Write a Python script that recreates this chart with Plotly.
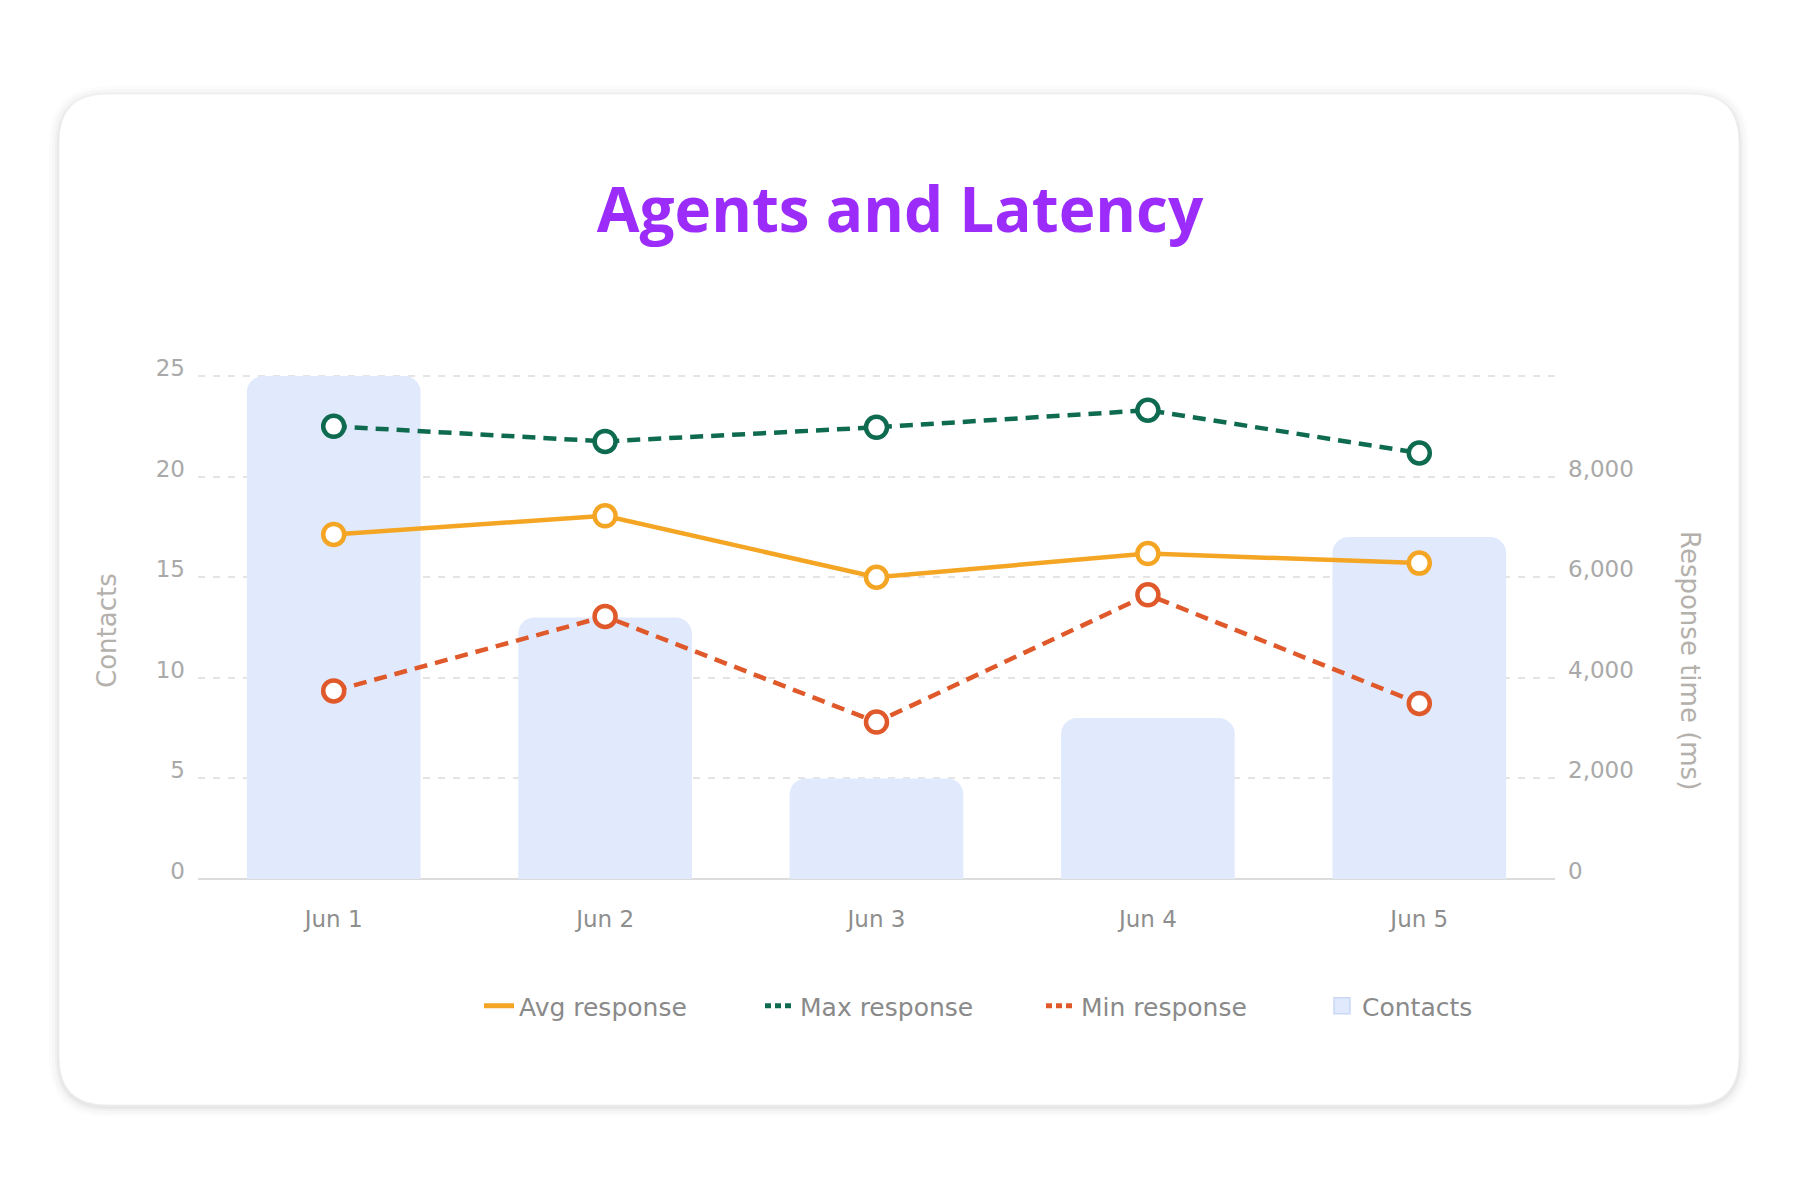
import plotly.graph_objects as go

# ---- data ----
days = ["Jun 1", "Jun 2", "Jun 3", "Jun 4", "Jun 5"]
contacts = [25, 13, 5, 8, 17]
avg_response = [6850, 7220, 6000, 6470, 6280]
max_response = [9000, 8700, 8980, 9320, 8470]
min_response = [3740, 5220, 3120, 5650, 3490]
left_ticks = [0, 5, 10, 15, 20, 25]
right_ticks = [0, 2000, 4000, 6000, 8000]

# ---- geometry (pixels) ----
W, H = 1800, 1200
TOP_PAD = 0.1  # small headroom so the top grid line (25) is drawn
L, R, B = 198, 1800 - 1555, 1200 - 879
T = 376 - round(503 * TOP_PAD / 25)
PW, PH = W - L - R, H - T - B


def px(x):
    return (x - L) / PW


def py(y):
    return (H - B - y) / PH


def rounded_rect(x0, y0, x1, y1, r):
    rx, ry = r / PW, r / PH
    X0, X1 = px(x0), px(x1)
    Y0, Y1 = py(y0), py(y1)
    return (f"M {X0+rx},{Y0} L {X1-rx},{Y0} Q {X1},{Y0} {X1},{Y0-ry} "
            f"L {X1},{Y1+ry} Q {X1},{Y1} {X1-rx},{Y1} "
            f"L {X0+rx},{Y1} Q {X0},{Y1} {X0},{Y1+ry} "
            f"L {X0},{Y0-ry} Q {X0},{Y0} {X0+rx},{Y0} Z")


card = (59, 94, 1739, 1105)
shapes = []
for i, op in zip([10, 7, 4, 2], [0.012, 0.018, 0.025, 0.035]):
    shapes.append(dict(type="path", xref="paper", yref="paper", layer="below",
                       path=rounded_rect(card[0]-i, card[1]-i+2, card[2]+i, card[3]+i+2, 48+i),
                       fillcolor=f"rgba(0,0,0,{op})", line=dict(width=0)))
shapes.append(dict(type="path", xref="paper", yref="paper", layer="below",
                   path=rounded_rect(*card, 48), fillcolor="white",
                   line=dict(color="#f0f0f0", width=1)))

ORANGE = "#F5A524"
GREEN = "#0F6B50"
RED = "#E0592A"
BAR = "#E1EAFD"
TICK = "#A9A9A9"
FONT = "DejaVu Sans"
DASH = "13px,8px"

fig = go.Figure()
fig.add_trace(go.Bar(x=days, y=contacts, name="Contacts", yaxis="y",
                     marker=dict(color=BAR, line=dict(width=0), cornerradius=16),
                     showlegend=False))
series = [("Avg response", avg_response, ORANGE, "solid"),
          ("Max response", max_response, GREEN, DASH),
          ("Min response", min_response, RED, DASH)]
for name, vals, col, dash in series:
    fig.add_trace(go.Scatter(x=days, y=vals, name=name, yaxis="y2",
                             mode="lines+markers", showlegend=False,
                             line=dict(color=col, width=4.5, dash=dash),
                             marker=dict(size=21, color="white", line=dict(color=col, width=4.5))))

# legend entries (line-only keys and a box key, like the reference)
for rank, (name, vals, col, dash) in enumerate(series, start=1):
    fig.add_trace(go.Scatter(x=[None], y=[None], name=name, yaxis="y2", mode="lines",
                             line=dict(color=col, width=5, dash="6px,4px" if dash != "solid" else "solid"),
                             legendrank=rank, hoverinfo="skip"))
fig.add_trace(go.Scatter(x=[None], y=[None], name="Contacts", yaxis="y", mode="markers",
                         marker=dict(symbol="square", size=16, color=BAR,
                                     line=dict(color="#C9D8F6", width=1.5)),
                         legendrank=4, hoverinfo="skip"))

fig.update_layout(
    width=W, height=H,
    margin=dict(l=L, r=R, t=T, b=B),
    paper_bgcolor="white", plot_bgcolor="rgba(0,0,0,0)",
    bargap=0.36,
    font=dict(family=FONT, color=TICK, size=22),
    title=dict(text="Agents and Latency", xref="container", x=0.5, xanchor="center",
               yref="container", y=1 - 210 / H, yanchor="middle",
               font=dict(family="Open Sans", size=62, color="#9B2CFA", weight=700)),
    xaxis=dict(showgrid=False, showline=False, zeroline=False, ticks="",
               ticklabelstandoff=24,
               tickfont=dict(family=FONT, size=23, color="#8E8E8E")),
    yaxis=dict(range=[0, 25 + TOP_PAD], tickvals=left_ticks, showline=False,
               gridcolor="#E4E4E4", griddash="7px,8px", gridwidth=1.5,
               zeroline=True, zerolinecolor="#DCDCDC", zerolinewidth=2,
               ticks="", ticklabelstandoff=12, ticklabelshift=-8,
               tickfont=dict(family=FONT, size=23, color=TICK)),
    yaxis2=dict(range=[0, (25 + TOP_PAD) * 400], tickvals=right_ticks, tickformat=",",
                overlaying="y", side="right", showgrid=False, zeroline=False,
                showline=False, ticks="", ticklabelstandoff=12, ticklabelshift=-8,
                tickfont=dict(family=FONT, size=23, color=TICK)),
    legend=dict(orientation="h", xref="paper", x=px(1041), xanchor="center",
                yref="paper", y=py(1006), yanchor="middle",
                font=dict(family=FONT, size=25, color="#8A8A8A"),
                itemsizing="trace", entrywidth=236, entrywidthmode="pixels",
                bgcolor="rgba(0,0,0,0)"),
    showlegend=True,
    shapes=shapes,
    annotations=[
        dict(text="Contacts", xref="paper", yref="paper", x=px(107), y=py(631),
             textangle=-90, showarrow=False, xanchor="center", yanchor="middle",
             font=dict(family=FONT, size=26, color="#B4B0AC")),
        dict(text="Response time (ms)", xref="paper", yref="paper", x=px(1690), y=py(660),
             textangle=90, showarrow=False, xanchor="center", yanchor="middle",
             font=dict(family=FONT, size=26, color="#B4B0AC")),
    ],
)

fig.write_html("out.html")
